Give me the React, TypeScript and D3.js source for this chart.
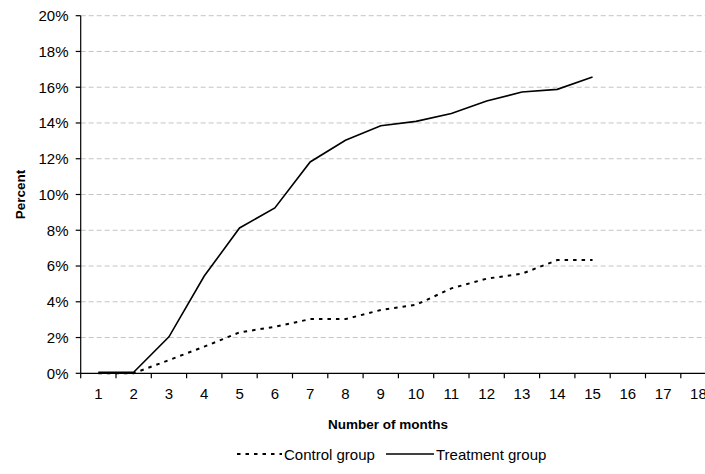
import React from "react";
import * as d3 from "d3";

const months = [1, 2, 3, 4, 5, 6, 7, 8, 9, 10, 11, 12, 13, 14, 15, 16, 17, 18];
const yTicks = [0, 0.02, 0.04, 0.06, 0.08, 0.1, 0.12, 0.14, 0.16, 0.18, 0.2];
const treatmentMonths = [1, 2, 3, 4, 5, 6, 7, 8, 9, 10, 11, 12, 13, 14, 15];
const treatmentValues = [0.0006, 0.0006, 0.0204, 0.0544, 0.0813, 0.0925, 0.1182, 0.1303, 0.1385, 0.1409, 0.1453, 0.1523, 0.1573, 0.1588, 0.1657];
const controlMonths = [1, 2, 3, 4, 5, 6, 7, 8, 9, 10, 11, 12, 13, 14, 15];
const controlValues = [0, 0, 0.0074, 0.0149, 0.0229, 0.026, 0.0303, 0.0303, 0.0354, 0.0383, 0.0475, 0.0529, 0.0557, 0.0633, 0.0633];
const seriesNames = ["Control group", "Treatment group"];

const W = 705;
const H = 474;
const left = 80.7;
const top = 15.7;
const bottom = 373.3;
const band = 35.3;
const font = "Arial, 'Liberation Sans', sans-serif";

export default function App() {
  const x = d3.scaleBand<number>().domain(months).range([left, left + band * months.length]).padding(0);
  const y = d3.scaleLinear().domain([0, 0.2]).range([bottom, top]);
  const cx = (m: number) => (x(m) as number) + x.bandwidth() / 2;
  const line = d3.line<[number, number]>().x((d) => cx(d[0])).y((d) => y(d[1]));
  const tData = treatmentMonths.map((m, i) => [m, treatmentValues[i]] as [number, number]);
  const cData = controlMonths.map((m, i) => [m, controlValues[i]] as [number, number]);
  const boundaries = months.map((m) => x(m) as number).concat([left + band * months.length]);

  return (
    <svg width={W} height={H} style={{ position: "absolute", left: 0, top: 0, background: "#fff" }} fontFamily={font}>
      <rect x={0} y={0} width={W} height={H} fill="#fff" />
      {yTicks.slice(1).map((t) => (
        <line key={"g" + t} x1={left} x2={W} y1={y(t)} y2={y(t)} stroke="#c4c4c4" strokeWidth={1} strokeDasharray="5,3" />
      ))}
      {/* y axis */}
      <line x1={left} x2={left} y1={top} y2={bottom} stroke="#000" strokeWidth={1.2} />
      {yTicks.map((t) => (
        <g key={"t" + t}>
          <line x1={left - 5} x2={left} y1={y(t)} y2={y(t)} stroke="#000" strokeWidth={1.2} />
          <text x={68.5} y={y(t) + 5.3} textAnchor="end" fontSize={15} fill="#000">
            {d3.format(".0%")(t)}
          </text>
        </g>
      ))}
      {/* x axis */}
      <line x1={left} x2={W} y1={bottom} y2={bottom} stroke="#000" strokeWidth={1.2} />
      {boundaries.map((b, i) => (
        <line key={"xb" + i} x1={b} x2={b} y1={bottom} y2={bottom + 5} stroke="#000" strokeWidth={1.2} />
      ))}
      {months.map((m) => (
        <text key={"xl" + m} x={cx(m)} y={398.5} textAnchor="middle" fontSize={15} fill="#000">
          {m}
        </text>
      ))}
      {/* series */}
      <path d={line(cData) || ""} fill="none" stroke="#000" strokeWidth={2} strokeDasharray="3.5,5" />
      <path d={line(tData) || ""} fill="none" stroke="#000" strokeWidth={1.6} />
      {/* axis titles */}
      <text x={388} y={429} textAnchor="middle" fontSize={13.5} fontWeight="bold" fill="#000">
        Number of months
      </text>
      <text transform={`translate(25,${(top + bottom) / 2}) rotate(-90)`} textAnchor="middle" fontSize={13.5} fontWeight="bold" fill="#000">
        Percent
      </text>
      {/* legend */}
      <line x1={237} x2={282} y1={454} y2={454} stroke="#000" strokeWidth={2} strokeDasharray="3.5,5" />
      <text x={284} y={459.5} fontSize={15} fill="#000">{seriesNames[0]}</text>
      <line x1={386} x2={434} y1={454} y2={454} stroke="#000" strokeWidth={1.6} />
      <text x={436} y={459.5} fontSize={15} fill="#000">{seriesNames[1]}</text>
    </svg>
  );
}
